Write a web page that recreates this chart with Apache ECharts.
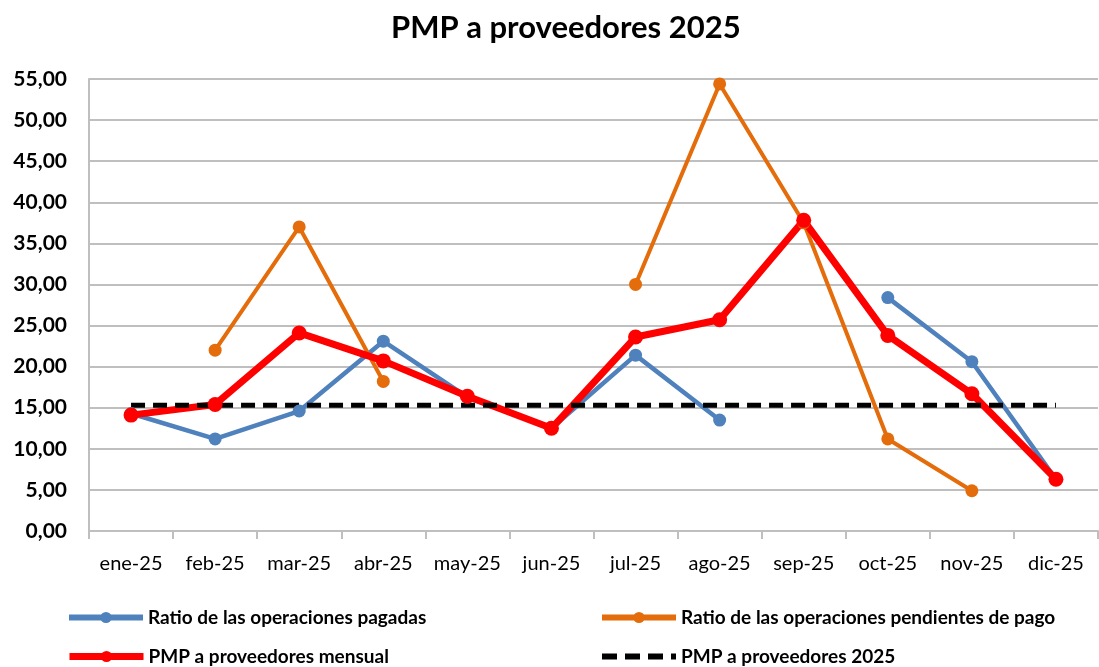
<!DOCTYPE html>
<html>
<head>
<meta charset="utf-8">
<script src="https://cdn.jsdelivr.net/npm/echarts@6/dist/echarts.min.js"></script>
<style>
  html, body { margin: 0; padding: 0; background: #fff; }
  #chart { width: 1099px; height: 667px; }
</style>
</head>
<body>
<div id="chart"></div>
<script>
// meses
const months = ['ene-25', 'feb-25', 'mar-25', 'abr-25', 'may-25', 'jun-25', 'jul-25', 'ago-25', 'sep-25', 'oct-25', 'nov-25', 'dic-25']
// valores
const pagadas = [14.3, 11.2, 14.6, 23.1, 16.3, 12.5, 21.4, 13.5, null, 28.4, 20.6, 6.3]
const pendientes = [null, 22.0, 37.0, 18.2, null, null, 30.0, 54.4, 37.5, 11.2, 4.9, null]
const mensual = [14.1, 15.4, 24.1, 20.7, 16.4, 12.5, 23.6, 25.7, 37.8, 23.8, 16.7, 6.3]
const anual = [15.3, 15.3, 15.3, 15.3, 15.3, 15.3, 15.3, 15.3, 15.3, 15.3, 15.3, 15.3]

const font = 'Lato, "Open Sans", sans-serif'
const chart = echarts.init(document.getElementById('chart'))

const legendBase = {
  orient: 'horizontal',
  padding: 0,
  itemWidth: 74,
  itemHeight: 14,
  itemGap: 0,
  selectedMode: false,
  textStyle: { fontFamily: font, fontWeight: 'bold', fontSize: 19, color: '#000' }
}

chart.setOption({
  animation: false,
  title: {
    text: 'PMP a proveedores 2025',
    left: 386,
    top: 7,
    textStyle: { fontFamily: font, fontWeight: 'bold', fontSize: 31, color: '#000' }
  },
  legend: [
    Object.assign({}, legendBase, { left: 66, top: 608, lineStyle: { width: 6 }, data: ['Ratio de las operaciones pagadas'] }),
    Object.assign({}, legendBase, { left: 599, top: 608, lineStyle: { width: 6 }, data: ['Ratio de las operaciones pendientes de pago'] }),
    Object.assign({}, legendBase, { left: 66, top: 647, lineStyle: { width: 7 }, data: ['PMP a proveedores mensual'] }),
    Object.assign({}, legendBase, { left: 599, top: 647, lineStyle: { width: 6, type: [15, 8] }, itemStyle: { opacity: 0 }, data: ['PMP a proveedores 2025'] })
  ],
  grid: { left: 89, right: 1, top: 79, bottom: 136, containLabel: false },
  xAxis: {
    type: 'category',
    data: months,
    boundaryGap: true,
    axisLine: { lineStyle: { color: '#bfbfbf', width: 2 } },
    axisTick: { show: true, length: 8, lineStyle: { color: '#bfbfbf', width: 2 } },
    axisLabel: { interval: 0, fontFamily: font, fontSize: 20, color: '#000', margin: 23 }
  },
  yAxis: {
    type: 'value',
    min: 0,
    max: 55,
    interval: 5,
    axisLine: { show: true, lineStyle: { color: '#bfbfbf', width: 2 } },
    axisTick: { show: false },
    splitLine: { lineStyle: { color: '#bfbfbf', width: 2 } },
    axisLabel: {
      fontFamily: font, fontSize: 21, fontWeight: 'bold', color: '#000', margin: 22,
      formatter: v => v.toFixed(2).replace('.', ',')
    }
  },
  series: [
    {
      name: 'Ratio de las operaciones pagadas',
      type: 'line',
      data: pagadas,
      symbol: 'circle',
      symbolSize: 13,
      lineStyle: { color: '#4f81bd', width: 4.5 },
      itemStyle: { color: '#4f81bd' }
    },
    {
      name: 'Ratio de las operaciones pendientes de pago',
      type: 'line',
      data: pendientes,
      symbol: 'circle',
      symbolSize: 13,
      lineStyle: { color: '#e46c0a', width: 4 },
      itemStyle: { color: '#e46c0a' }
    },
    {
      name: 'PMP a proveedores mensual',
      type: 'line',
      data: mensual,
      symbol: 'circle',
      symbolSize: 15,
      lineStyle: { color: '#ff0000', width: 7 },
      itemStyle: { color: '#ff0000' }
    },
    {
      name: 'PMP a proveedores 2025',
      type: 'line',
      data: anual,
      symbol: 'none',
      lineStyle: { color: '#000', width: 5, type: [14, 8] },
      itemStyle: { color: '#000' }
    }
  ]
})
</script>
</body>
</html>
